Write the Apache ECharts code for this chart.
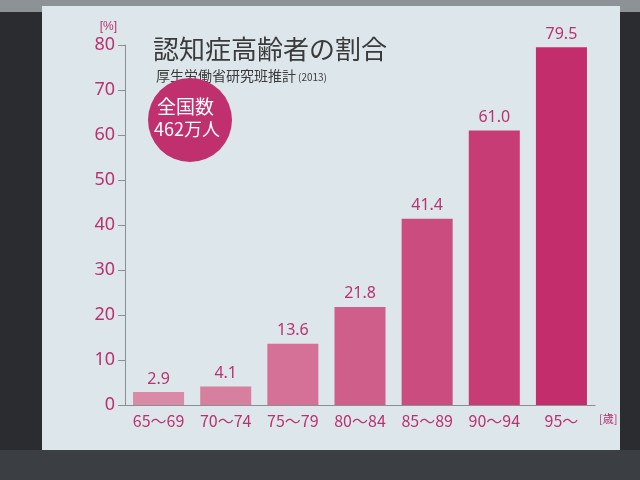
<!DOCTYPE html>
<html><head><meta charset="utf-8">
<script src="https://cdn.jsdelivr.net/npm/echarts@6/dist/echarts.min.js"></script>
<style>
html,body{margin:0;padding:0;width:640px;height:480px;overflow:hidden;background:#2a2c30;}
#top{position:absolute;left:0;top:0;width:640px;height:12px;background:#8d9296;}
#slide{position:absolute;left:42px;top:6px;width:578px;height:444px;background:#dde6eb;}
#bottom{position:absolute;left:0;top:450px;width:640px;height:30px;background:#3b3e43;}
#c{position:absolute;left:0;top:0;width:640px;height:480px;}
</style></head>
<body>
<div id="top"></div><div id="slide"></div><div id="bottom"></div>
<div id="c"></div>
<script>
const categories = ['65～69','70～74','75～79','80～84','85～89','90～94','95～'];
const values = [2.9, 4.1, 13.6, 21.8, 41.4, 61.0, 79.5];
const valueLabels = ['2.9','4.1','13.6','21.8','41.4','61.0','79.5'];
const barColors = ['#d98aa6','#d77f9f','#d57197','#cf5f8a','#cb4d80','#c73c75','#c42d6b'];

const pink = '#b8326f';
const chart = echarts.init(document.getElementById('c'), null, {renderer:'canvas'});
chart.setOption({
  backgroundColor: 'transparent',
  animation: false,
  grid: {left:125, right:45, top:45, bottom:75},
  title: [
    {text:'認知症高齢者の割合', left:148, top:31, textStyle:{fontFamily:'Noto Sans CJK JP', fontSize:26, fontWeight:'normal', color:'#3a3a3a'}},
    {text:'厚生労働省研究班推計', left:151, top:64, textStyle:{fontFamily:'Noto Sans CJK JP', fontSize:14, fontWeight:'normal', color:'#3a3a3a'}},
    {text:'(2013)', left:293, top:67, textStyle:{fontFamily:'Noto Sans CJK JP', fontSize:10, fontWeight:'normal', color:'#3a3a3a'}}
  ],
  graphic: [
    {type:'circle', shape:{cx:190, cy:120, r:42}, style:{fill:'#c0306f'}, z:10},
    {type:'text', left:190-33, top:97, z:11, style:{text:'全国数', fill:'#fff', font:'19px "Noto Sans CJK JP"'}},
    {type:'text', left:190-36, top:120, z:11, style:{text:'462万人', fill:'#fff', font:'18px "Noto Sans CJK JP"'}}
  ],
  xAxis: {
    type:'category', data:categories,
    name:'[歳]', nameLocation:'end', nameGap:4,
    nameTextStyle:{color:pink, fontSize:11, fontFamily:'Noto Sans CJK JP', verticalAlign:'top', padding:[8,0,0,0]},
    axisLine:{lineStyle:{color:'#8a8f93', width:1}},
    axisTick:{inside:true, length:6, lineStyle:{color:'#8a8f93'}},
    axisLabel:{color:pink, fontSize:16, fontFamily:'Noto Sans CJK JP', margin:8, interval:0}
  },
  yAxis: {
    type:'value', min:0, max:80, interval:10,
    name:'[%]', nameLocation:'end', nameGap:12,
    nameTextStyle:{color:pink, fontSize:12, align:'right', padding:[0,8,0,0]},
    axisLine:{show:true, lineStyle:{color:'#8a8f93'}},
    axisTick:{show:true, length:7, lineStyle:{color:'#8a8f93'}},
    splitLine:{show:false},
    axisLabel:{color:pink, fontSize:18, fontFamily:'Noto Sans', margin:10}
  },
  series: [{
    type:'bar', barWidth:'76%',
    data: values.map((v,i)=>({value:v, itemStyle:{color:barColors[i]}})),
    label:{show:true, position:'top', color:pink, fontSize:16, fontFamily:'Noto Sans', distance:5,
      formatter:p=>valueLabels[p.dataIndex]}
  }]
});
</script>
</body></html>
